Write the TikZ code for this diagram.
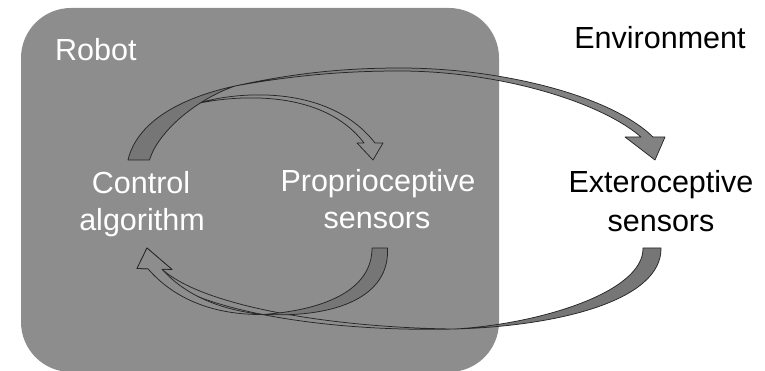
\documentclass[tikz,border=0pt]{standalone}
\usepackage{fontspec}
\setmainfont{Liberation Sans}
\definecolor{boxgray}{RGB}{141,141,141}
\definecolor{backgray}{RGB}{118,118,118}
\definecolor{frontgray}{RGB}{130,130,130}
\begin{document}
\begin{tikzpicture}[x=1pt,y=-1pt,
  lbl/.style={inner sep=0pt, anchor=base, font=\fontsize{30.5}{36}\selectfont},
  edgeline/.style={draw=black!85, line width=0.75pt, line join=round},
  backside/.style={edgeline, fill=backgray},
  frontside/.style={edgeline, fill=#1}]
\useasboundingbox (0,0) rectangle (765,371);
\clip (0,0) rectangle (765,371);
% robot box
\fill[boxgray, rounded corners=50pt] (21,8) rectangle (499,372);
% key points
\coordinate (cbL) at (128,160);
\coordinate (cbR) at (149.5,160);
\coordinate (T2) at (235,86);
\coordinate (s1) at (195,104);
\coordinate (h1tip) at (373,160);
\coordinate (h2tip) at (655,160);
\coordinate (pbL) at (372,248);
\coordinate (pbR) at (387.5,248);
\coordinate (ebL) at (643,248);
\coordinate (ebR) at (661,248);
\coordinate (T3) at (263,314.5);
\coordinate (T4) at (455,329);
\coordinate (h3tip) at (147,248);
% Control -> Exteroceptive (front side)
\draw[frontside=frontgray] (T2) .. controls (290,74) and (340,68) .. (400,68)
   .. controls (500,68) and (610,95) .. (653,137) -- (665,137) -- (h2tip) -- (625,137) -- (641,137)
   .. controls (598,100) and (495,71) .. (400,71) .. controls (340,71) and (290,76) .. (T2) -- cycle;
% Control -> Proprioceptive (front side)
\draw[frontside=boxgray] (s1) .. controls (240,90) and (330,85) .. (375,143) -- (383,143) -- (h1tip)
   -- (357,143) -- (364,143) .. controls (324,90) and (240,94) .. (s1) -- cycle;
% shared back side at Control
\draw[backside] (cbL) .. controls (137,122) and (180,98) .. (T2)
   .. controls (195,100) and (158,132) .. (cbR) -- cycle;
% Exteroceptive -> Control (front side)
\draw[frontside=boxgray] (T4) .. controls (340,332) and (200,315) .. (148,268.8) -- (137,268.5)
   -- (h3tip) -- (172,269.5) -- (162,269.2) .. controls (205,308) and (340,328) .. (T4) -- cycle;
% Proprioceptive -> Control (front side)
\draw[frontside=boxgray] (T3) .. controls (215,315) and (175,300) .. (148,268.8) -- (137,268.5)
   -- (h3tip) -- (172,269.5) -- (162,269.2) .. controls (185,295) and (220,310) .. (T3) -- cycle;
% back sides
\draw[backside] (pbR) .. controls (390,296) and (338,318) .. (T3)
   .. controls (325,310) and (372,290) .. (pbL) -- cycle;
\draw[backside] (ebR) .. controls (662,300) and (560,326) .. (T4)
   .. controls (540,324) and (644,292) .. (ebL) -- cycle;
% labels
\node[lbl, anchor=base west, text=white] (robot) at (55,61) {Robot};
\node[lbl, text=black] (env) at (660,49) {Environment};
\node[lbl, text=white] (ctrl1) at (141,194) {Control};
\node[lbl, text=white] (ctrl2) at (142,231) {algorithm};
\node[lbl, text=white] (prop1) at (378,192) {Proprioceptive};
\node[lbl, text=white] (prop2) at (377,229) {sensors};
\node[lbl, text=black] (ext1) at (661,192.5) {Exteroceptive};
\node[lbl, text=black] (ext2) at (661,232) {sensors};
\end{tikzpicture}
\end{document}
